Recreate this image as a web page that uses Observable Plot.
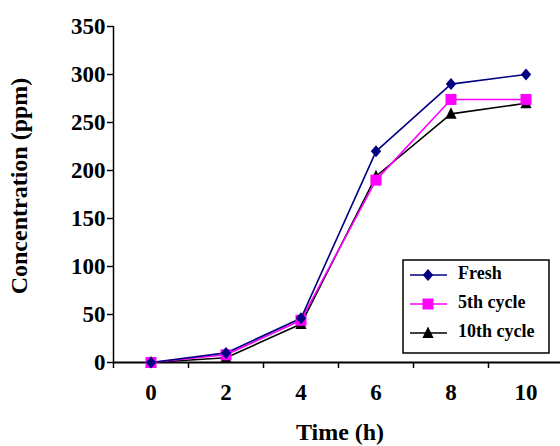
<!DOCTYPE html>
<html>
<head>
<meta charset="utf-8">
<script src="https://cdn.jsdelivr.net/npm/d3@7"></script>
<script src="https://cdn.jsdelivr.net/npm/@observablehq/plot@0.6"></script>
<style>
  html, body { margin: 0; padding: 0; background: #fff; }
  #chart { width: 560px; height: 446px; overflow: hidden; }
</style>
</head>
<body>
<div id="chart"></div>
<script>
const times = [0, 2, 4, 6, 8, 10];
const fresh = [0, 10, 46, 220, 290, 300];
const cycle5 = [0, 8, 44, 190, 274, 274];
const cycle10 = [0, 5, 40, 194, 259, 270];
const seriesNames = ["Fresh", "5th cycle", "10th cycle"];
const seriesColors = ["#000080", "#FF00FF", "#000000"];
const seriesSymbols = ["diamond", "square", "triangle"];
const yTicks = [0, 50, 100, 150, 200, 250, 300, 350];
const xBoundaries = [-1, 1, 3, 5, 7, 9, 11];

const seriesValues = [fresh, cycle5, cycle10];
const data = [];
seriesNames.forEach((name, i) => {
  times.forEach((t, j) => data.push({series: name, time: t, value: seriesValues[i][j]}));
});

// custom marker shapes (Excel-like proportions)
const customSymbols = {
  diamond: {draw(ctx) { ctx.moveTo(0, -6); ctx.lineTo(5.2, 0); ctx.lineTo(0, 6); ctx.lineTo(-5.2, 0); ctx.closePath(); }},
  square: {draw(ctx) { ctx.rect(-5.5, -5.5, 11, 11); }},
  triangle: {draw(ctx) { ctx.moveTo(0, -6.5); ctx.lineTo(5.6, 5); ctx.lineTo(-5.6, 5); ctx.closePath(); }}
};

const font = "'Liberation Serif', 'Times New Roman', serif";

const plot = Plot.plot({
  width: 560,
  height: 446,
  marginTop: 26,
  marginBottom: 84,
  marginLeft: 113,
  marginRight: 0,
  style: {fontFamily: font, fontWeight: "bold", fontSize: "23px", background: "#fff", color: "#000"},
  x: {domain: [-1, 11], range: [113, 563]},
  y: {domain: [0, 350]},
  marks: [
    Plot.axisY({ticks: yTicks, tickSize: 6, tickPadding: 2, tickFormat: d => d, label: null, strokeWidth: 1.5}),
    Plot.axisX({ticks: xBoundaries, tickSize: 6, tickFormat: () => "", label: null, strokeWidth: 1.5}),
    Plot.axisX({ticks: times, tickSize: 0, tickPadding: 21, tickFormat: d => d, label: null}),
    Plot.ruleX([-1], {y1: 0, y2: 350, stroke: "#000", strokeWidth: 1.5}),
    Plot.ruleY([0], {x1: -1, x2: 11, stroke: "#000", strokeWidth: 2}),
    ...seriesNames.slice().reverse().map((name) => {
      const i = seriesNames.indexOf(name);
      const d = data.filter(r => r.series === name);
      return Plot.line(d, {x: "time", y: "value", stroke: seriesColors[i], strokeWidth: 1.6});
    }),
    ...seriesNames.slice().reverse().map((name) => {
      const i = seriesNames.indexOf(name);
      const d = data.filter(r => r.series === name);
      return Plot.dot(d, {x: "time", y: "value", symbol: customSymbols[seriesSymbols[i]], fill: seriesColors[i], r: 5, stroke: "none"});
    })
  ]
});

document.getElementById("chart").appendChild(plot);

const svg = d3.select(plot);
// axis titles
svg.append("text")
  .attr("x", 340).attr("y", 434)
  .attr("text-anchor", "middle").attr("dominant-baseline", "middle")
  .style("font-family", font).style("font-weight", "bold").style("font-size", "24px")
  .text("Time (h)");
svg.append("text")
  .attr("transform", "translate(21,186) rotate(-90)")
  .attr("text-anchor", "middle").attr("dominant-baseline", "middle")
  .style("font-family", font).style("font-weight", "bold").style("font-size", "24px")
  .text("Concentration (ppm)");

// legend
const lg = svg.append("g");
lg.append("rect").attr("x", 403).attr("y", 260).attr("width", 146).attr("height", 93)
  .attr("fill", "#fff").attr("stroke", "#000").attr("stroke-width", 1.5);
const legendY = [275, 304, 333];
seriesNames.forEach((name, i) => {
  const y = legendY[i];
  lg.append("line").attr("x1", 410).attr("x2", 447).attr("y1", y).attr("y2", y)
    .attr("stroke", seriesColors[i]).attr("stroke-width", 1.6);
  const p = d3.path();
  customSymbols[seriesSymbols[i]].draw(p);
  lg.append("path").attr("transform", `translate(428,${y})`)
    .attr("d", p.toString())
    .attr("fill", seriesColors[i]);
  lg.append("text").attr("x", 458).attr("y", y).attr("dominant-baseline", "middle")
    .attr("text-anchor", "start")
    .style("font-family", font).style("font-weight", "bold").style("font-size", "18px")
    .text(name);
});
</script>
</body>
</html>
